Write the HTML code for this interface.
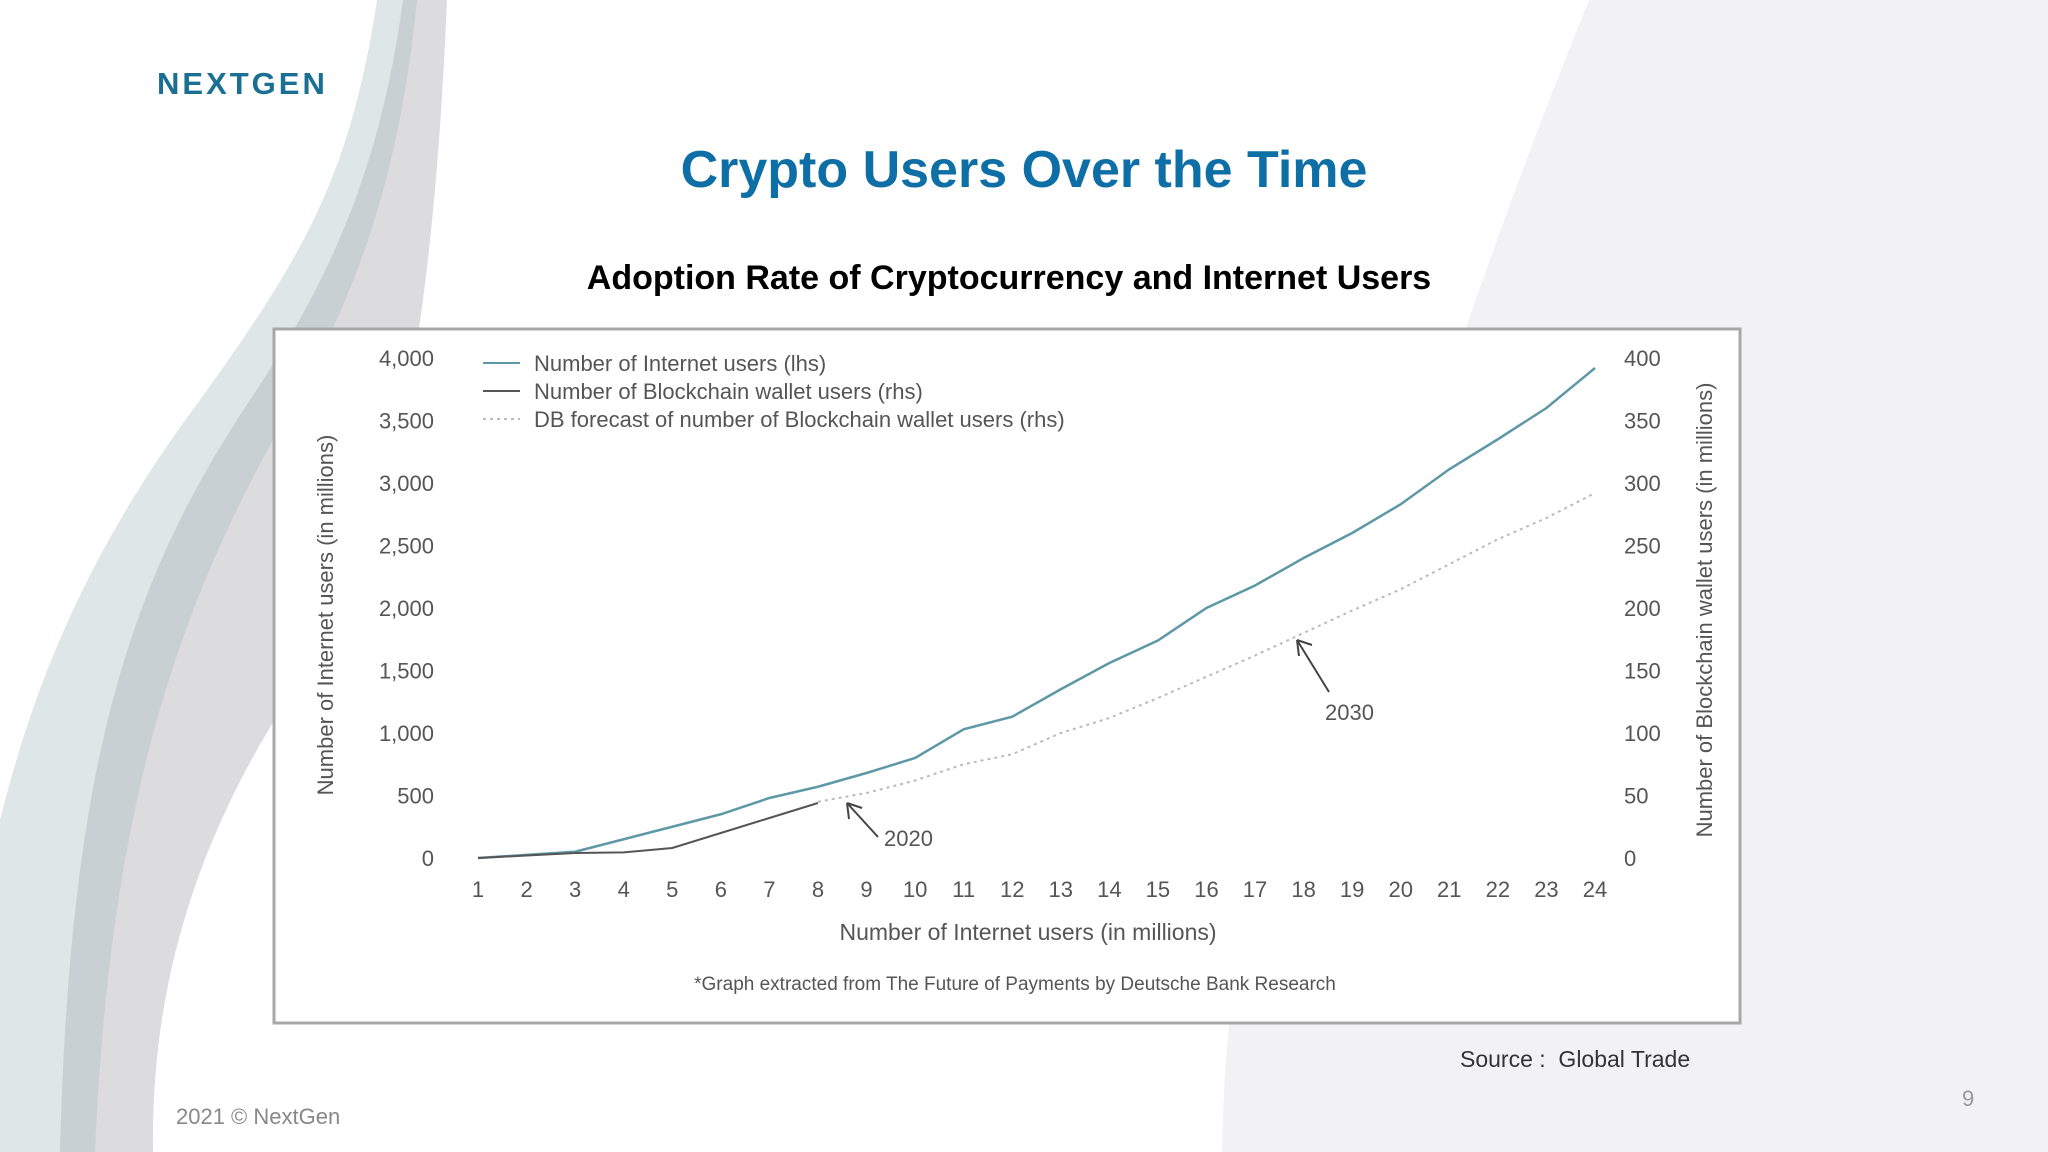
<!DOCTYPE html>
<html><head><meta charset="utf-8"><style>
body{margin:0;width:2048px;height:1152px;overflow:hidden;background:#fff;font-family:"Liberation Sans",sans-serif;}
#bg{position:absolute;left:0;top:0}
.abs{position:absolute;white-space:nowrap}
</style></head><body>
<svg id="bg" width="2048" height="1152">
<path d="M1589,0 C1540,120 1500,230 1465,330 L1300,700 C1250,850 1225,980 1222,1152 L2048,1152 L2048,0 Z" fill="#f2f2f4"/>
<path d="M377,0 C350,180 300,260 200,400 C80,560 30,700 0,820 L0,1152 L153,1152 C150,950 220,800 300,680 C380,560 430,400 447,0 Z" fill="#dfe6e8"/>
<path d="M403,0 C380,170 330,280 250,400 C130,580 70,760 60,1152 L153,1152 C150,950 220,800 300,680 C380,560 430,400 447,0 Z" fill="#c9d0d3"/>
<path d="M417,0 C400,170 360,290 290,410 C180,600 110,800 95,1152 L153,1152 C150,950 220,800 300,680 C380,560 430,400 447,0 Z" fill="#dcdcde"/>
<path d="M447,0 C430,400 380,560 300,680 C220,800 150,950 153,1152 L1222,1152 C1225,980 1250,850 1300,700 L1465,330 C1500,230 1540,120 1589,0 Z" fill="#fff"/>
</svg>
<div class="abs" style="left:157px;top:66px;font-size:31px;letter-spacing:3px;color:#1a6f92;font-weight:bold;">NEXTGEN</div>
<div class="abs" style="left:0;width:2048px;text-align:center;top:140px;font-size:52px;font-weight:bold;color:#0e6ea6;">Crypto Users Over the Time</div>
<div class="abs" style="left:583px;width:852px;text-align:center;top:259px;font-size:34px;font-weight:bold;color:#000;">Adoption Rate of Cryptocurrency and Internet Users</div>
<svg class="abs" id="chart" style="left:0;top:0" width="2048" height="1152"></svg>
<div class="abs" style="left:1460px;top:1046px;font-size:23px;color:#333;">Source :&nbsp; Global Trade</div>
<div class="abs" style="left:176px;top:1104px;font-size:22px;color:#888;">2021 © NextGen</div>
<div class="abs" style="left:1962px;top:1086px;font-size:22px;color:#999;">9</div>
<script>
const categories=[1,2,3,4,5,6,7,8,9,10,11,12,13,14,15,16,17,18,19,20,21,22,23,24];
const internetUsers=[0,25,50,150,250,350,480,570,680,800,1030,1130,1350,1560,1740,2000,2180,2400,2600,2830,3110,3350,3600,3920];
const walletCats=[1,2,3,4,5,6,7,8];
const walletUsers=[0,2,4,4.5,8,20,32,44];
const forecastCats=[8,9,10,11,12,13,14,15,16,17,18,19,20,21,22,23,24];
const forecastUsers=[45,52,62,75,83,100,112,128,145,162,180,198,215,235,255,272,292];
const leftTicks=[0,500,1000,1500,2000,2500,3000,3500,4000];
const rightTicks=[0,50,100,150,200,250,300,350,400];
const NS="http://www.w3.org/2000/svg";
const svg=document.getElementById('chart');
const X=v=>478+(v-1)*(1595-478)/23;
const YL=v=>858-v*(500/4000);
const YR=v=>858-v*(500/400);
function mk(t,a){const e=document.createElementNS(NS,t);for(const k in a)e.setAttribute(k,a[k]);svg.appendChild(e);return e;}
const frame=mk('rect',{x:274,y:329,width:1466,height:694,fill:'#fff',stroke:'#a8a8a8','stroke-width':3});


function txt(s,x,y,sz,anchor,name,extra){const e=mk('text',Object.assign({x:x,y:y,'font-size':sz,fill:'#555','text-anchor':anchor,'font-family':'Liberation Sans, sans-serif'},extra||{}));e.textContent=s;


return e;}
leftTicks.forEach(v=>txt(v.toLocaleString('en-US'),434,YL(v)+8,22,'end','y-left-tick'));
rightTicks.forEach(v=>txt(String(v),1624,YR(v)+8,22,'start','y-right-tick'));
categories.forEach(c=>txt(String(c),X(c),897,22,'middle','x-tick'));
txt('Number of Internet users (in millions)',1028,940,23,'middle','x-axis-title');
txt('*Graph extracted from The Future of Payments by Deutsche Bank Research',1015,990,19,'middle','chart-footnote');
txt('Number of Internet users (in millions)',333,615,22,'middle','y-left-axis-title',{transform:'rotate(-90 333 615)'});
txt('Number of Blockchain wallet users (in millions)',1712,610,22,'middle','y-right-axis-title',{transform:'rotate(-90 1712 610)'});
function line(xs,ys,fy,attrs,name){const p=mk('polyline',Object.assign({points:xs.map((c,i)=>X(c)+','+fy(ys[i])).join(' '),fill:'none'},attrs));

}
line(categories,internetUsers,YL,{stroke:'#5e98a6','stroke-width':2.5},'internet-users-line');
line(walletCats,walletUsers,YR,{stroke:'#555','stroke-width':2},'wallet-users-line');
line(forecastCats,forecastUsers,YR,{stroke:'#bbb','stroke-width':2,'stroke-dasharray':'3 4'},'forecast-line');
// legend
const lg=[['Number of Internet users (lhs)','#5e98a6',''],['Number of Blockchain wallet users (rhs)','#555',''],['DB forecast of number of Blockchain wallet users (rhs)','#bbb','3 4']];
lg.forEach((l,i)=>{const y=363+i*28;const s=mk('line',{x1:483,x2:520,y1:y,y2:y,stroke:l[1],'stroke-width':2,'stroke-dasharray':l[2]});


txt(l[0],534,y+8,22,'start','legend-entry');});
// annotations
function arrow(x1,y1,x2,y2,name){const g=mk('path',{d:`M${x1},${y1} L${x2},${y2} M${x2},${y2} l2,16 M${x2},${y2} l15,5`,stroke:'#444','stroke-width':2,fill:'none'});

}
arrow(878,837,847,803,'arrow-2020');
txt('2020',884,846,22,'start','label-2020');
arrow(1329,692,1297,640,'arrow-2030');
txt('2030',1325,720,22,'start','label-2030');
</script>
</body></html>
